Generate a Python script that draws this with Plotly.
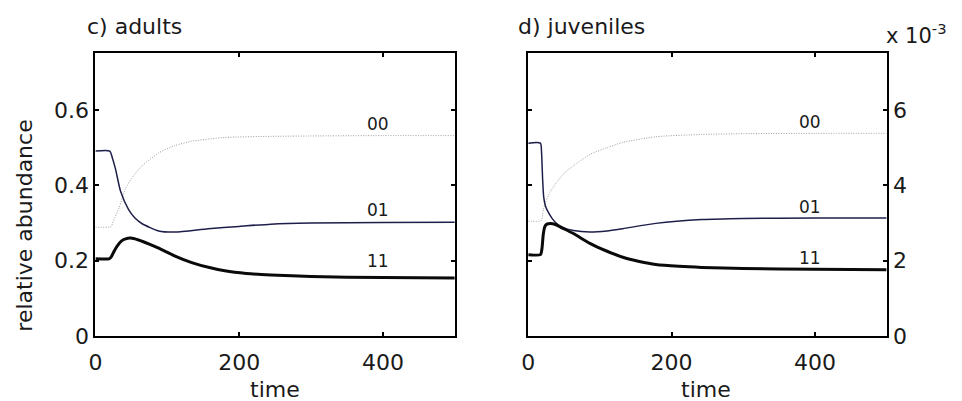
import plotly.graph_objects as go

# ---- data ----
# c) adults
ad_t_00 = [0, 20, 22, 27, 33, 42, 53, 65, 88, 110, 134, 180, 244, 300, 400, 500]
ad_v_00 = [0.289, 0.289, 0.291, 0.315, 0.341, 0.392, 0.425, 0.452, 0.486, 0.505, 0.517, 0.527, 0.530, 0.531, 0.532, 0.532]

ad_t_01 = [0, 20, 23.4, 28, 35, 46, 55, 65, 88, 111, 157, 200, 244, 300, 400, 500]
ad_v_01 = [0.491, 0.491, 0.474, 0.443, 0.384, 0.336, 0.313, 0.298, 0.279, 0.276, 0.285, 0.291, 0.297, 0.300, 0.301, 0.302]

ad_t_11 = [0, 19, 22, 26, 30, 36, 42, 49, 60, 75, 88, 110, 134, 160, 180, 210, 244, 300, 400, 500]
ad_v_11 = [0.205, 0.205, 0.210, 0.225, 0.238, 0.252, 0.258, 0.260, 0.255, 0.244, 0.233, 0.213, 0.195, 0.181, 0.173, 0.166, 0.162, 0.158, 0.155, 0.154]

# d) juveniles (values x 10^-3)
ju_t_00 = [0, 17, 19, 21, 24, 31, 40, 50, 63, 86, 110, 132, 178, 242, 300, 400, 500]
ju_v_00 = [3.05, 3.05, 3.10, 3.35, 3.55, 3.84, 4.09, 4.32, 4.52, 4.82, 5.00, 5.14, 5.29, 5.35, 5.37, 5.38, 5.38]

ju_t_01 = [0, 17, 18.5, 20, 21.5, 24, 27, 33, 40, 50, 63, 86, 110, 132, 178, 242, 300, 400, 500]
ju_v_01 = [5.12, 5.12, 4.90, 4.20, 3.70, 3.45, 3.32, 3.13, 2.98, 2.87, 2.80, 2.76, 2.79, 2.85, 2.99, 3.09, 3.12, 3.13, 3.13]

ju_t_11 = [0, 17, 19, 21, 23, 26, 31, 38, 45, 63, 86, 110, 132, 155, 178, 210, 242, 300, 400, 500]
ju_v_11 = [2.16, 2.16, 2.30, 2.70, 2.90, 2.97, 2.99, 2.96, 2.89, 2.72, 2.46, 2.25, 2.09, 1.98, 1.90, 1.85, 1.82, 1.79, 1.77, 1.76]

juv_scale = 1e-3

x_ticks = [0, 200, 400]
ad_y_ticks = [0, 0.2, 0.4, 0.6]
ad_y_text = ["0", "0.2", "0.4", "0.6"]
ju_y_ticks = [0, 2, 4, 6]

series_labels = ["00", "01", "11"]
ad_label_pos = [0.562, 0.335, 0.199]
ju_label_pos = [5.69, 3.42, 2.08]
label_t = 393

FONT = "DejaVu Sans"
W, H = 962, 401
XO = -12  # horizontal correction in pixels

def px(x):
    return (x + XO) / W

styles = {
    "00": dict(color="#9c9c9c", width=1.0, dash="1px,1.5px"),
    "01": dict(color="#1e1e4a", width=1.5),
    "11": dict(color="#0a0a0a", width=3),
}

fig = go.Figure()

def add(t, v, key, xa, ya):
    fig.add_trace(go.Scatter(
        x=t, y=v, mode="lines", xaxis=xa, yaxis=ya,
        line=dict(shape="spline", smoothing=0.6, **styles[key]),
        showlegend=False, hoverinfo="skip"))

add(ad_t_00, ad_v_00, "00", "x", "y")
add(ad_t_01, ad_v_01, "01", "x", "y")
add(ad_t_11, ad_v_11, "11", "x", "y")
add(ju_t_00, [v * juv_scale for v in ju_v_00], "00", "x2", "y2")
add(ju_t_01, [v * juv_scale for v in ju_v_01], "01", "x2", "y2")
add(ju_t_11, [v * juv_scale for v in ju_v_11], "11", "x2", "y2")

axis_common = dict(
    showline=True, linecolor="black", linewidth=2, mirror="ticks",
    ticks="inside", ticklen=4, tickwidth=1.5, tickcolor="black",
    showgrid=False, zeroline=False,
    tickfont=dict(family=FONT, size=22, color="#1a1a1a"),
)

fig.update_layout(
    width=W, height=H,
    margin=dict(l=0, r=0, t=0, b=0),
    paper_bgcolor="white", plot_bgcolor="white",
    xaxis=dict(domain=[px(93), px(455)], range=[0, 500], tickvals=x_ticks,
               anchor="y", ticklabelstandoff=6, **axis_common),
    yaxis=dict(domain=[(H - 339) / H, (H - 47) / H], range=[0, 0.75],
               tickvals=ad_y_ticks, ticktext=ad_y_text, anchor="x", **axis_common),
    xaxis2=dict(domain=[px(529), px(890)], range=[0, 500], tickvals=x_ticks,
                anchor="y2", ticklabelstandoff=6, **axis_common),
    yaxis2=dict(domain=[(H - 339) / H, (H - 47) / H], range=[0, 7.5 * juv_scale],
                tickvals=[v * juv_scale for v in ju_y_ticks],
                ticktext=[str(v) for v in ju_y_ticks],
                anchor="x2", side="right", **axis_common),
)

ann = []
for lab, yv in zip(series_labels, ad_label_pos):
    ann.append(dict(x=label_t, y=yv, xref="x", yref="y", text=lab, showarrow=False,
                    font=dict(family=FONT, size=17, color="#1a1a1a")))
for lab, yv in zip(series_labels, ju_label_pos):
    ann.append(dict(x=label_t, y=yv * juv_scale, xref="x2", yref="y2", text=lab, showarrow=False,
                    font=dict(family=FONT, size=17, color="#1a1a1a")))

tf = dict(family=FONT, size=22, color="#1a1a1a")
ann += [
    dict(x=px(83), y=(H - 19) / H, xref="paper", yref="paper", text="c) adults",
         xanchor="left", yanchor="middle", showarrow=False, font=tf),
    dict(x=px(517), y=(H - 19) / H, xref="paper", yref="paper", text="d) juveniles",
         xanchor="left", yanchor="middle", showarrow=False, font=tf),
    dict(x=px(887), y=(H - 27) / H, xref="paper", yref="paper", text="x 10<sup>-3</sup>",
         xanchor="left", yanchor="middle", showarrow=False, font=dict(family=FONT, size=21, color="#1a1a1a")),
    dict(x=px(274), y=(H - 394) / H, xref="paper", yref="paper", text="time",
         xanchor="center", yanchor="middle", showarrow=False, font=tf),
    dict(x=px(708), y=(H - 394) / H, xref="paper", yref="paper", text="time",
         xanchor="center", yanchor="middle", showarrow=False, font=tf),
    dict(x=px(22), y=(H - 225) / H, xref="paper", yref="paper", text="relative abundance",
         textangle=-90, xanchor="center", yanchor="middle", showarrow=False, font=tf),
]
fig.update_layout(annotations=ann)

fig.write_html("out.html")
